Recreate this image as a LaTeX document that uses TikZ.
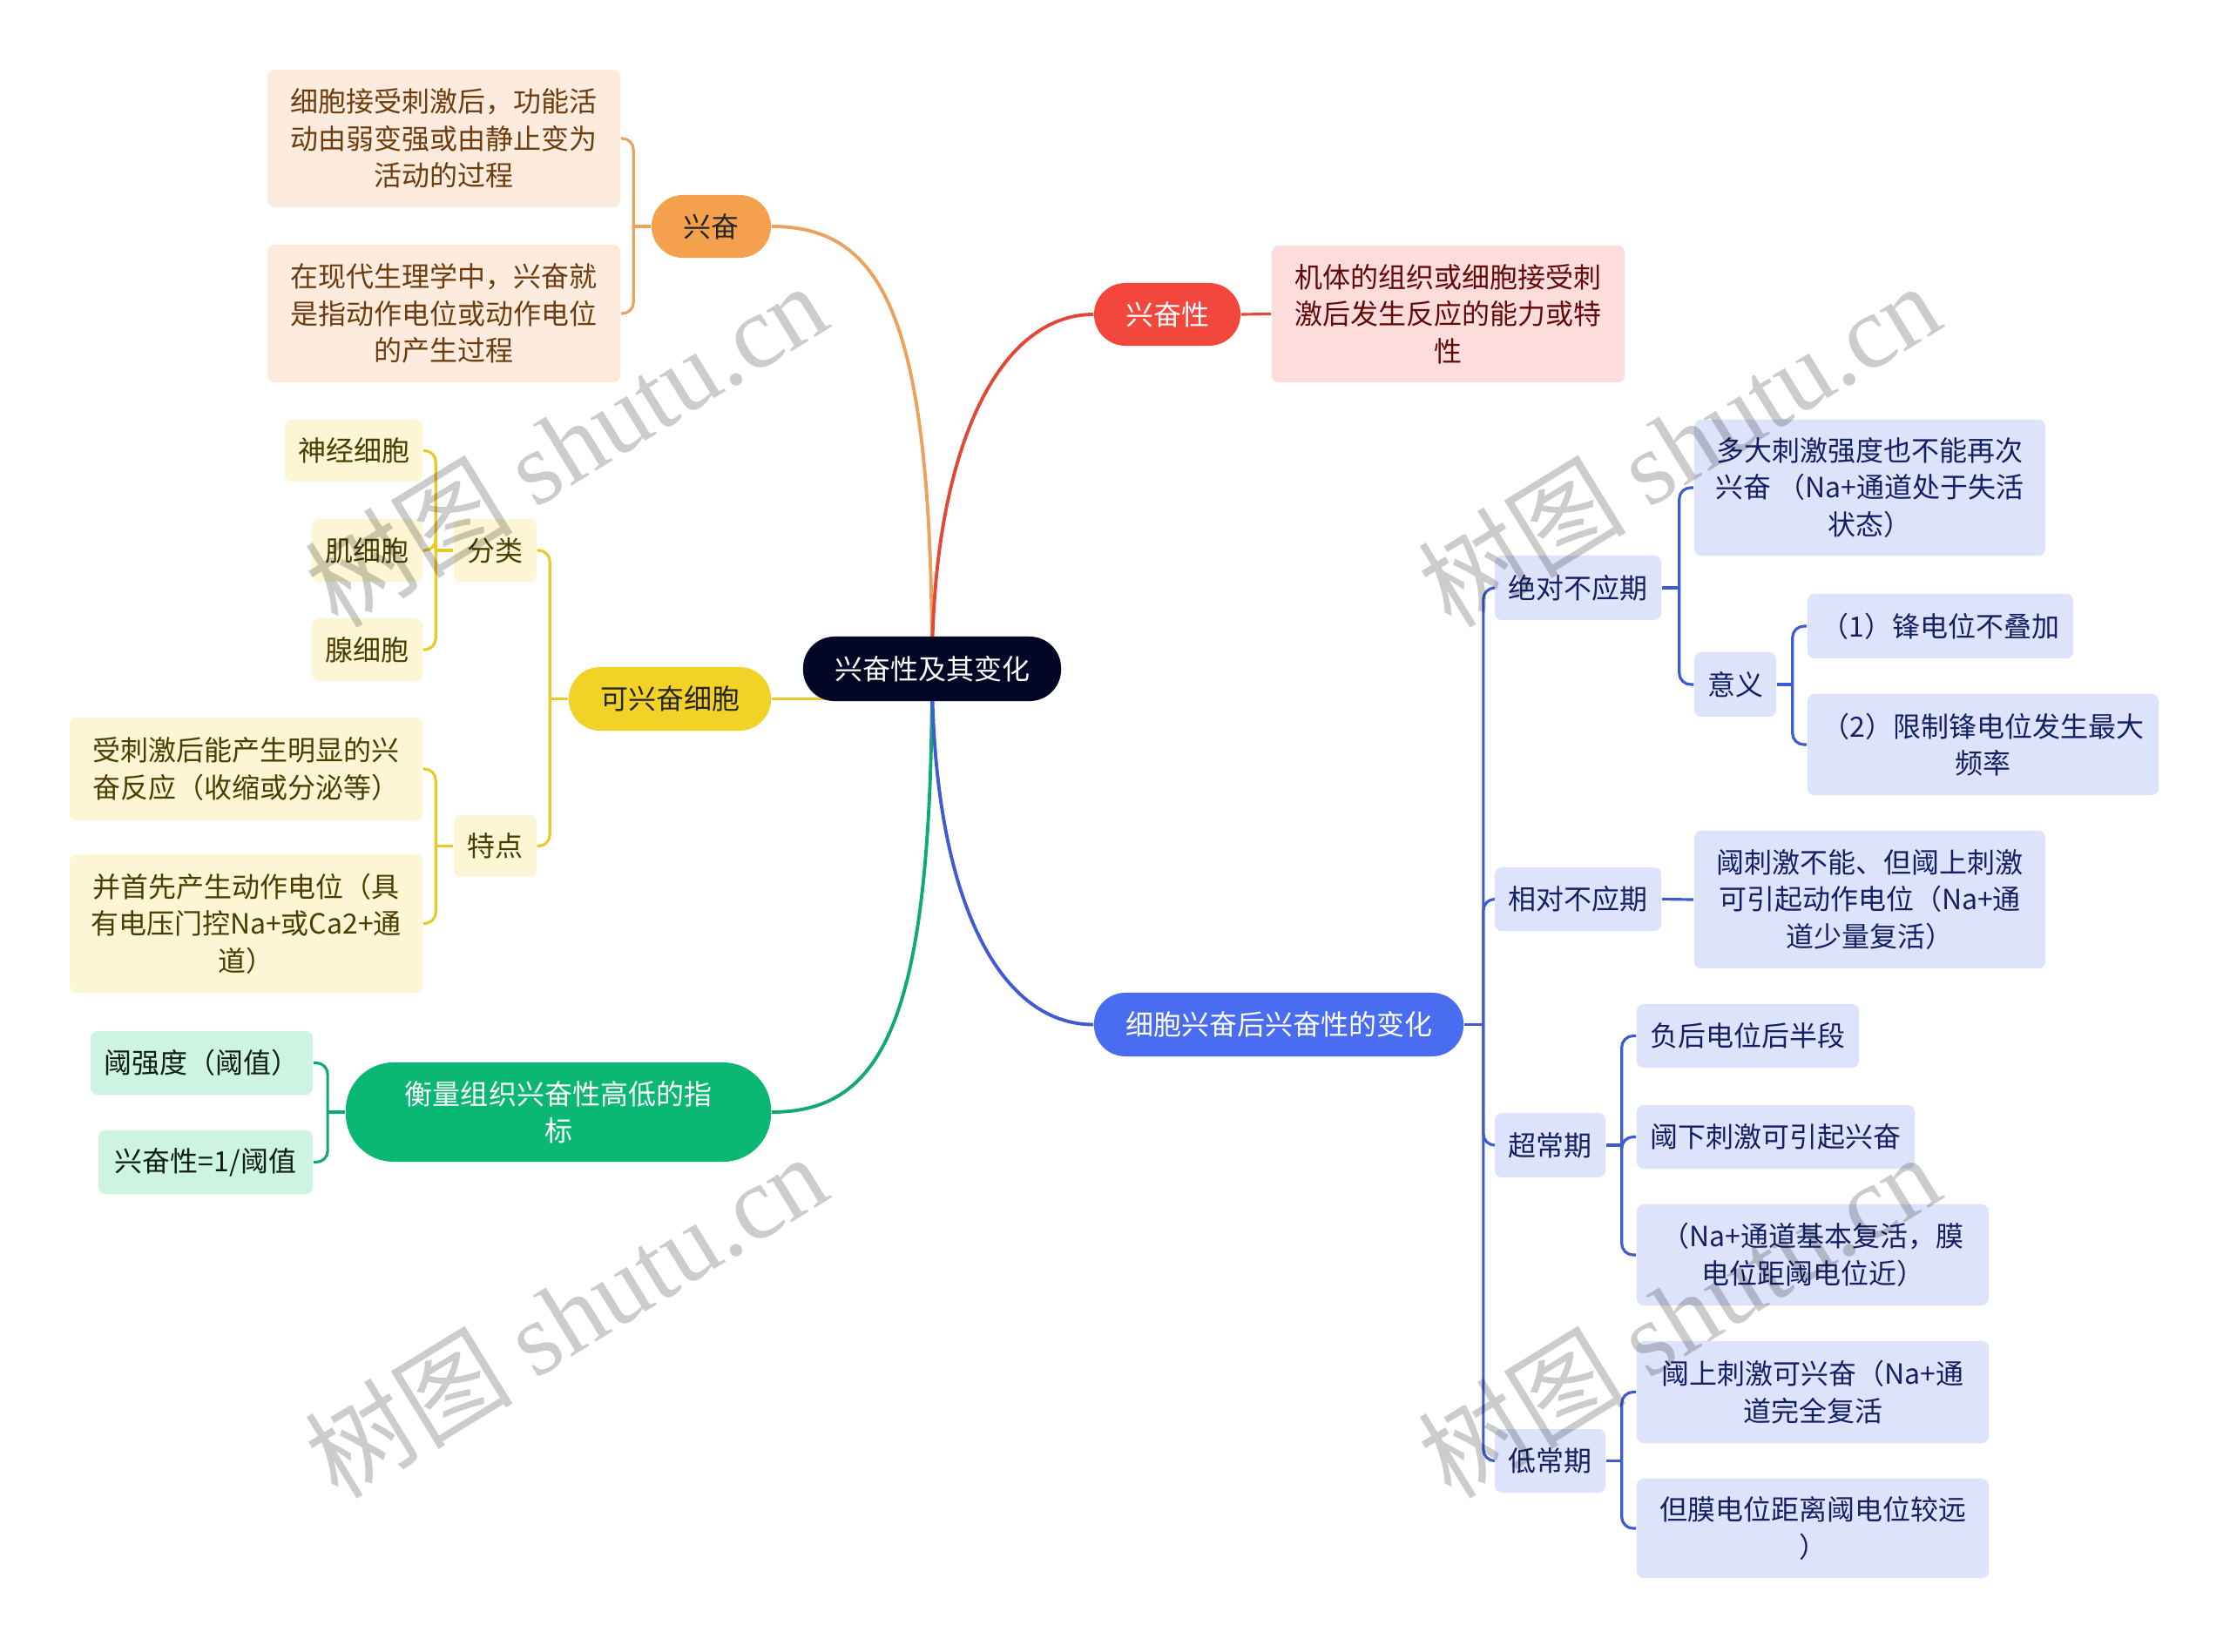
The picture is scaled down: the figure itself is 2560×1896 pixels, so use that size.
\documentclass[tikz,border=0pt]{standalone}
\usepackage{fontspec}
\setmainfont{Noto Sans CJK SC}
\newfontfamily\wmlatin{Liberation Serif}
\usetikzlibrary{backgrounds, calc}
\definecolor{rootfill}{RGB}{3,6,36}
\definecolor{orgmain}{RGB}{244,160,76}
\definecolor{orgline}{RGB}{236,162,92}
\definecolor{orglight}{RGB}{253,236,221}
\definecolor{orgtext}{RGB}{110,60,15}
\definecolor{redmain}{RGB}{243,70,60}
\definecolor{redline}{RGB}{226,72,54}
\definecolor{redlight}{RGB}{253,220,220}
\definecolor{redtext}{RGB}{100,10,10}
\definecolor{ylwmain}{RGB}{243,210,40}
\definecolor{ylwline}{RGB}{236,200,40}
\definecolor{ylwlight}{RGB}{253,246,212}
\definecolor{ylwtext}{RGB}{75,60,0}
\definecolor{grnmain}{RGB}{10,183,115}
\definecolor{grnline}{RGB}{14,170,110}
\definecolor{grnlight}{RGB}{205,243,226}
\definecolor{grntext}{RGB}{15,30,22}
\definecolor{blumain}{RGB}{74,108,240}
\definecolor{bluline}{RGB}{64,90,210}
\definecolor{blulight}{RGB}{220,227,251}
\definecolor{blutext}{RGB}{20,32,100}
\newcommand{\mapfont}{\fontsize{9.1pt}{12.05pt}\selectfont}
\newcommand{\wmfont}{\fontsize{34pt}{36pt}\selectfont}
\tikzset{
  wh/.style 2 args = {minimum width=#1cm, minimum height=#2cm},
  pill/.style      = {rounded corners=0.36cm, inner sep=0pt, align=center, font=\mapfont},
  leaf/.style      = {rounded corners=0.08cm, inner sep=0pt, align=center, font=\mapfont},
  rootnode/.style  = {pill, fill=rootfill, text=white},
  orgnode/.style   = {pill, fill=orgmain, text=black!85},
  orgleaf/.style   = {leaf, fill=orglight, text=orgtext},
  rednode/.style   = {pill, fill=redmain, text=white},
  redleaf/.style   = {leaf, fill=redlight, text=redtext},
  ylwnode/.style   = {pill, fill=ylwmain, text=black!85},
  ylwleaf/.style   = {leaf, fill=ylwlight, text=ylwtext},
  grnnode/.style   = {pill, rounded corners=0.55cm, fill=grnmain, text=white},
  grnleaf/.style   = {leaf, fill=grnlight, text=grntext},
  blunode/.style   = {pill, fill=blumain, text=white},
  bluleaf/.style   = {leaf, fill=blulight, text=blutext},
  trunk/.style     = {line width=1.1pt},
  link/.style      = {line width=0.9pt},
  fork/.style      = {link, rounded corners=0.13cm},
  wmark/.style     = {font=\wmfont, text=black, text opacity=0.2, rotate=31.6},
}

\begin{document}
\begin{tikzpicture}[x=0.01cm, y=-0.01cm]
  \useasboundingbox (0,0) rectangle (2560,1896);
  % root
  \node[rootnode, wh={2.96}{0.74}] (root) at (1070,768) {兴奋性及其变化};

  % 兴奋
  \node[orgnode, wh={1.37}{0.72}] (xf) at (816.5,260) {兴奋};
  \node[orgleaf, wh={4.05}{1.58}] (xf1) at (509.5,159) {细胞接受刺激后，功能活\\动由弱变强或由静止变为\\活动的过程};
  \node[orgleaf, wh={4.05}{1.58}] (xf2) at (509.5,360) {在现代生理学中，兴奋就\\是指动作电位或动作电位\\的产生过程};

  % 兴奋性
  \node[rednode, wh={1.68}{0.72}] (xfx) at (1340,361) {兴奋性};
  \node[redleaf, wh={4.05}{1.57}] (xfx1) at (1662.5,360.5) {机体的组织或细胞接受刺\\激后发生反应的能力或特\\性};

  % 可兴奋细胞
  \node[ylwnode, wh={2.32}{0.73}] (kx) at (769,802.5) {可兴奋细胞};
  \node[ylwleaf, wh={0.95}{0.72}] (fl) at (568.5,632) {分类};
  \node[ylwleaf, wh={1.58}{0.71}] (sj) at (406,517.5) {神经细胞};
  \node[ylwleaf, wh={1.27}{0.72}] (jx) at (421.5,632) {肌细胞};
  \node[ylwleaf, wh={1.27}{0.72}] (xx) at (421.5,746) {腺细胞};
  \node[ylwleaf, wh={0.95}{0.71}] (td) at (568.5,971.5) {特点};
  \node[ylwleaf, wh={4.05}{1.18}] (td1) at (282.5,883) {受刺激后能产生明显的兴\\奋反应（收缩或分泌等）};
  \node[ylwleaf, wh={4.05}{1.59}] (td2) at (282.5,1060.5) {并首先产生动作电位（具\\有电压门控Na+或Ca2+通\\道）};

  % 衡量指标
  \node[grnnode, wh={4.88}{1.14}] (hl) at (641,1277) {衡量组织兴奋性高低的指\\标};
  \node[grnleaf, wh={2.55}{0.73}] (hl1) at (231.5,1220.5) {阈强度（阈值）};
  \node[grnleaf, wh={2.46}{0.73}] (hl2) at (236,1334.5) {兴奋性=1/阈值};

  % 兴奋后的变化
  \node[blunode, wh={4.24}{0.73}] (bh) at (1468,1176.5) {细胞兴奋后兴奋性的变化};
  \node[bluleaf, wh={1.91}{0.74}] (jd) at (1811.5,675) {绝对不应期};
  \node[bluleaf, wh={4.03}{1.56}] (jd1) at (2146.5,560) {多大刺激强度也不能再次\\兴奋 （Na+通道处于失活\\状态）};
  \node[bluleaf, wh={0.94}{0.74}] (yy) at (1992,786) {意义};
  \node[bluleaf, wh={3.05}{0.74}] (yy1) at (2227.5,719) {（1）锋电位不叠加};
  \node[bluleaf, wh={4.03}{1.16}] (yy2) at (2276.5,855) {（2）限制锋电位发生最大\\频率};
  \node[bluleaf, wh={1.91}{0.73}] (xd) at (1811.5,1032.5) {相对不应期};
  \node[bluleaf, wh={4.03}{1.58}] (xd1) at (2146.5,1033) {阈刺激不能、但阈上刺激\\可引起动作电位（Na+通\\道少量复活）};
  \node[bluleaf, wh={1.27}{0.74}] (cc) at (1779.5,1315) {超常期};
  \node[bluleaf, wh={2.55}{0.73}] (cc1) at (2006.5,1189.5) {负后电位后半段};
  \node[bluleaf, wh={3.19}{0.73}] (cc2) at (2038.5,1305.5) {阈下刺激可引起兴奋};
  \node[bluleaf, wh={4.04}{1.16}] (cc3) at (2081,1441) {（Na+通道基本复活，膜\\电位距阈电位近）};
  \node[bluleaf, wh={1.27}{0.73}] (dc) at (1779.5,1677.5) {低常期};
  \node[bluleaf, wh={4.04}{1.17}] (dc1) at (2081,1598.5) {阈上刺激可兴奋（Na+通\\道完全复活};
  \node[bluleaf, wh={4.04}{1.14}] (dc2) at (2081,1755) {但膜电位距离阈电位较远\\）};

  \begin{scope}[on background layer]
    \fill[white] (0,0) rectangle (2560,1896);
    % branches from the root
    \draw[trunk, orgline] (root.center) .. controls ($(root.center)+(0,-400)$) and ($(xf.east)+(130,0)$) .. (xf.east);
    \draw[trunk, redline] (root.center) .. controls ($(root.center)+(0,-250)$) and ($(xfx.west)+(-110,0)$) .. (xfx.west);
    \draw[trunk, ylwline] (kx.east) -- (kx.east -| root.center);
    \draw[trunk, grnline] (root.center) .. controls ($(root.center)+(0,400)$) and ($(hl.east)+(130,0)$) .. (hl.east);
    \draw[trunk, bluline] (root.center) .. controls ($(root.center)+(0,260)$) and ($(bh.west)+(-110,0)$) .. (bh.west);

    % forks to the left
    \coordinate (xfm) at ($(xf.west)+(-20,0)$);
    \draw[link, orgline] (xf.west) -- (xfm);
    \foreach \c in {xf1,xf2} \draw[fork, orgline] (xfm) |- (\c.east);
    \coordinate (kxm) at ($(kx.west)+(-21,0)$);
    \draw[link, ylwline] (kx.west) -- (kxm);
    \foreach \c in {fl,td} \draw[fork, ylwline] (kxm) |- (\c.east);
    \coordinate (flm) at ($(fl.west)+(-20,0)$);
    \draw[link, ylwline] (fl.west) -- (flm);
    \foreach \c in {sj,jx,xx} \draw[fork, ylwline] (flm) |- (\c.east);
    \coordinate (tdm) at ($(td.west)+(-20,0)$);
    \draw[link, ylwline] (td.west) -- (tdm);
    \foreach \c in {td1,td2} \draw[fork, ylwline] (tdm) |- (\c.east);
    \coordinate (hlm) at ($(hl.west)+(-20,0)$);
    \draw[link, grnline] (hl.west) -- (hlm);
    \foreach \c in {hl1,hl2} \draw[fork, grnline] (hlm) |- (\c.east);

    % forks to the right
    \draw[link, redline] (xfx.east) -- (xfx1.west);
    \coordinate (bhm) at ($(bh.east)+(22,0)$);
    \draw[link, bluline] (bh.east) -- (bhm);
    \foreach \c in {jd,xd,cc,dc} \draw[fork, bluline] (bhm) |- (\c.west);
    \coordinate (jdm) at ($(jd.east)+(20,0)$);
    \draw[link, bluline] (jd.east) -- (jdm);
    \foreach \c in {jd1,yy} \draw[fork, bluline] (jdm) |- (\c.west);
    \coordinate (yym) at ($(yy.east)+(18,0)$);
    \draw[link, bluline] (yy.east) -- (yym);
    \foreach \c in {yy1,yy2} \draw[fork, bluline] (yym) |- (\c.west);
    \draw[link, bluline] (xd.east) -- (xd1.west);
    \coordinate (ccm) at ($(cc.east)+(18,0)$);
    \draw[link, bluline] (cc.east) -- (ccm);
    \foreach \c in {cc1,cc2,cc3} \draw[fork, bluline] (ccm) |- (\c.west);
    \coordinate (dcm) at ($(dc.east)+(18,0)$);
    \draw[link, bluline] (dc.east) -- (dcm);
    \foreach \c in {dc1,dc2} \draw[fork, bluline] (dcm) |- (\c.west);
  \end{scope}

  % watermarks
  \foreach \i/\x/\y in {wa/649/510, wb/1927/510, wc/649/1510, wd/1927/1510} {
    \node[wmark] (\i) at (\x,\y) {树图 {\wmlatin shutu.cn}};
  }
\end{tikzpicture}
\end{document}
